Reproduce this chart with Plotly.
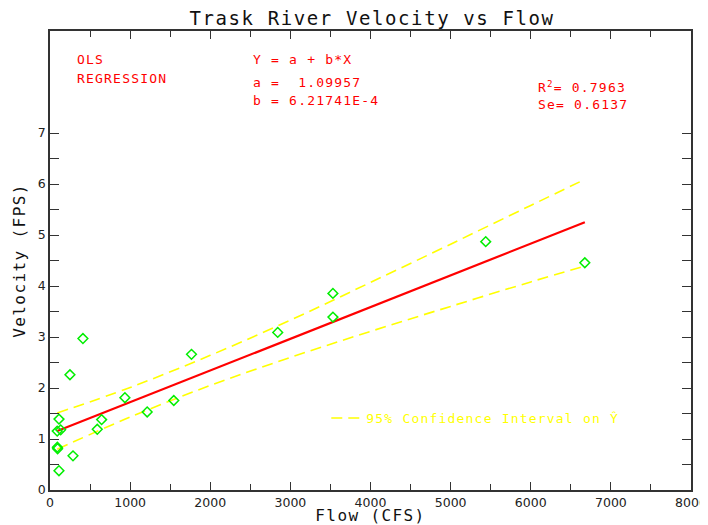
import plotly.graph_objects as go

# ---- data ----
flow = [90, 112, 133, 92, 95, 112, 249, 287, 411, 590, 644, 935, 1213, 1545,
        1766, 2842, 3531, 3531, 5438, 6675]
velocity = [1.155, 1.39, 1.18, 0.84, 0.81, 0.378, 2.26, 0.67, 2.97, 1.19, 1.38,
            1.81, 1.53, 1.755, 2.66, 3.09, 3.855, 3.39, 4.87, 4.456]

fit_x = [90, 6675]
fit_y = [1.155, 5.25]

band_x = [90, 1000, 2000, 3000, 4000, 5000, 6000, 6675]
band_upper = [1.51, 2.01, 2.64, 3.33, 4.07, 4.82, 5.58, 6.09]
band_lower = [0.80, 1.43, 2.05, 2.60, 3.11, 3.60, 4.08, 4.39]

x_ticks = [0, 1000, 2000, 3000, 4000, 5000, 6000, 7000, 8000]
y_tickvals = [i * 0.5 for i in range(15)]
y_ticktext = [str(int(v)) if v == int(v) else " " for v in y_tickvals]

MONO = "DejaVu Sans Mono"
SANS = "DejaVu Sans"

# page body has an 8px margin; figure is placed at (8, 8) in the window
OFF = 8
W, H = 708 - OFF, 525 - OFF


def sp(text, ls):
    return f'<span style="letter-spacing:{ls}px">{text}</span>'


fig = go.Figure()

fig.add_trace(go.Scatter(x=band_x, y=band_upper, mode="lines", line_shape="spline",
                         line=dict(color="#ffff00", width=1.6, dash="11px,6px"),
                         name=sp("95% Confidence Interval on Ŷ", 1.2), showlegend=True))
fig.add_trace(go.Scatter(x=band_x, y=band_lower, mode="lines", line_shape="spline",
                         line=dict(color="#ffff00", width=1.6, dash="11px,6px"),
                         showlegend=False))
fig.add_trace(go.Scatter(x=fit_x, y=fit_y, mode="lines",
                         line=dict(color="#ff0000", width=2.2), showlegend=False))
fig.add_trace(go.Scatter(x=flow, y=velocity, mode="markers",
                         marker=dict(symbol="diamond-open", size=7.5, color="#00ee00",
                                     line=dict(width=1.5, color="#00ee00")),
                         showlegend=False))

red = dict(family=MONO, size=13, color="#ff0000")
notes = [
    ("OLS", 75, 59), ("REGRESSION", 75, 79),
    ("Y = a + b*X", 251, 60), ("a =  1.09957", 251, 82), ("b = 6.21741E-4", 251, 100),
    ("R<sup>2</sup>= 0.7963", 536, 87), ("Se= 0.6137", 536, 105),
]
# plot-area edges in window pixels
L, R, T, B = 49.5, 691, 31, 490
annos = []
for txt, px, py in notes:
    annos.append(dict(text=sp(txt, 1.2), x=(px - L) / (R - L), y=(B - py) / (B - T),
                      xref="paper", yref="paper", xanchor="left", yanchor="middle",
                      showarrow=False, font=red))

fig.update_layout(
    width=W, height=H,
    margin=dict(l=L - OFF, r=708 - R, t=T - OFF, b=525 - B, autoexpand=False),
    paper_bgcolor="white", plot_bgcolor="white",
    title=dict(text=sp("Trask River Velocity vs Flow", 1.6), x=(372 - OFF) / W, xanchor="center",
               y=1 - (18 - OFF) / H, yanchor="middle", xref="container", yref="container",
               font=dict(family=MONO, size=19, color="#111111")),
    annotations=annos,
    legend=dict(x=(326 - L) / (R - L), y=(B - 418) / (B - T), xanchor="left", yanchor="middle",
                bgcolor="rgba(0,0,0,0)", font=dict(family=MONO, size=13, color="#ffff00"),
                itemwidth=30),
    xaxis=dict(range=[0, 8000], tickvals=x_ticks, ticks="inside", ticklen=8, tickwidth=1.2,
               tickcolor="#333", showline=True, linecolor="#333", linewidth=1.5,
               mirror="allticks", showgrid=False, zeroline=False, automargin=False,
               minor=dict(dtick=500, ticks="inside", ticklen=6, tickcolor="#333", tickwidth=1.2),
               tickfont=dict(family=SANS, size=12.5, color="#222"),
               title=dict(text=sp("Flow (CFS)", 1.4), standoff=7,
                          font=dict(family=MONO, size=16, color="#111"))),
    yaxis=dict(range=[0, 9], tickvals=y_tickvals, ticktext=y_ticktext, ticks="inside",
               ticklen=9, tickwidth=1.2, tickcolor="#333", showline=True, linecolor="#333",
               linewidth=1.5, mirror="ticks", showgrid=False, zeroline=False, automargin=False,
               tickfont=dict(family=SANS, size=12.5, color="#222"),
               title=dict(text=sp("Velocity (FPS)", 1.4), standoff=8,
                          font=dict(family=MONO, size=16, color="#111"))),
)

fig.write_html("out.html")
